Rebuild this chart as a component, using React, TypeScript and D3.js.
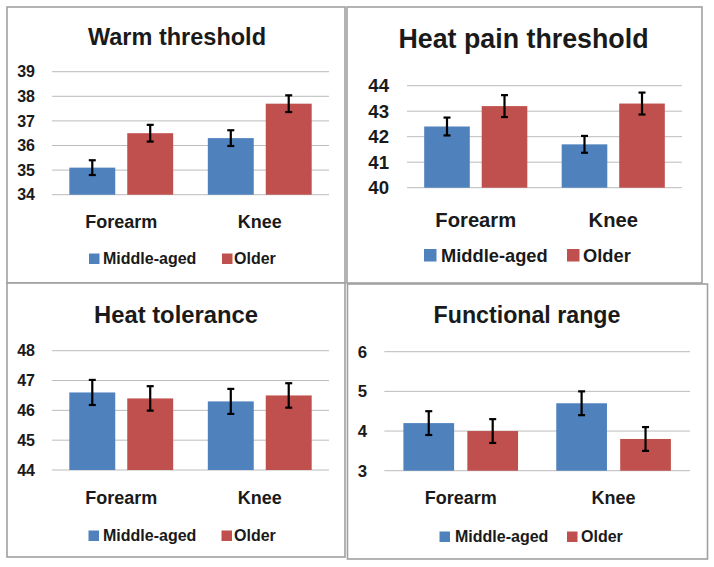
import React from "react";
import * as d3 from "d3";

const categories = ["Forearm", "Knee"];
const seriesNames = ["Middle-aged", "Older"];
const seriesColors = ["#4F81BD", "#C0504D"];

const warmMiddle = [35.1, 36.3];
const warmOlder = [36.5, 37.7];
const warmErrMiddle = [0.3, 0.32];
const warmErrOlder = [0.34, 0.34];
const warmTicks = [34, 35, 36, 37, 38, 39];

const heatPainMiddle = [42.4, 41.7];
const heatPainOlder = [43.2, 43.3];
const heatPainErrMiddle = [0.35, 0.33];
const heatPainErrOlder = [0.43, 0.43];
const heatPainTicks = [40, 41, 42, 43, 44];

const heatTolMiddle = [46.6, 46.3];
const heatTolOlder = [46.4, 46.5];
const heatTolErrMiddle = [0.42, 0.42];
const heatTolErrOlder = [0.41, 0.41];
const heatTolTicks = [44, 45, 46, 47, 48];

const funcMiddle = [4.2, 4.7];
const funcOlder = [4.0, 3.8];
const funcErrMiddle = [0.3, 0.3];
const funcErrOlder = [0.3, 0.3];
const funcTicks = [3, 4, 5, 6];

const FONT = "'Liberation Sans', Arial, sans-serif";
const TEXT = "#1a1a1a";

type Layout = {
  box: [number, number, number, number];
  plot: [number, number, number, number]; // x0, x1, yTop, yBottom
  title: string;
  titleX: number;
  titleY: number;
  titleSize: number;
  tickRight: number;
  tickSize: number;
  catY: number;
  catSize: number;
  legY: number;
  legSize: number;
  sq: number;
  legItems: { sqX: number; textX: number }[];
};

type PanelProps = {
  layout: Layout;
  middle: number[];
  older: number[];
  errMiddle: number[];
  errOlder: number[];
  ticks: number[];
};

function Panel({ layout, middle, older, errMiddle, errOlder, ticks }: PanelProps) {
  const [px0, px1, py0, py1] = layout.plot;
  const y = d3
    .scaleLinear()
    .domain([ticks[0], ticks[ticks.length - 1]])
    .range([py1, py0]);
  const x0 = d3.scaleBand<string>().domain(categories).range([px0, px1]).padding(0);
  const bw = x0.bandwidth();
  const x1 = d3
    .scaleBand<string>()
    .domain(seriesNames)
    .range([bw * 0.125, bw * 0.875])
    .paddingInner(0.207)
    .paddingOuter(0);
  const values = [middle, older];
  const errs = [errMiddle, errOlder];
  const [bx, by, bwid, bh] = layout.box;
  const cap = 3.5;
  return (
    <g>
      <rect x={bx} y={by} width={bwid} height={bh} fill="#fff" stroke="#a0a0a0" strokeWidth={1.6} />
      <text
        x={layout.titleX}
        y={layout.titleY}
        textAnchor="middle"
        fontFamily={FONT}
        fontWeight="bold"
        fontSize={layout.titleSize}
        fill={TEXT}
      >
        {layout.title}
      </text>
      {ticks.map((t) => (
        <g key={t}>
          <line x1={px0} x2={px1} y1={y(t)} y2={y(t)} stroke="#bcbcbc" strokeWidth={1} />
          <text
            x={layout.tickRight}
            y={y(t)}
            dy="0.36em"
            textAnchor="end"
            fontFamily={FONT}
            fontWeight="bold"
            fontSize={layout.tickSize}
            fill={TEXT}
          >
            {t}
          </text>
        </g>
      ))}
      {categories.map((c, ci) => (
        <g key={c}>
          {seriesNames.map((s, si) => {
            const v = values[si][ci];
            const e = errs[si][ci];
            const xb = (x0(c) as number) + (x1(s) as number);
            const w = x1.bandwidth();
            const cx = xb + w / 2;
            return (
              <g key={s}>
                <rect x={xb} y={y(v)} width={w} height={py1 - y(v)} fill={seriesColors[si]} />
                <line x1={cx} x2={cx} y1={y(v + e)} y2={y(v - e)} stroke="#000" strokeWidth={2.2} />
                <line x1={cx - cap} x2={cx + cap} y1={y(v + e)} y2={y(v + e)} stroke="#000" strokeWidth={2.2} />
                <line x1={cx - cap} x2={cx + cap} y1={y(v - e)} y2={y(v - e)} stroke="#000" strokeWidth={2.2} />
              </g>
            );
          })}
          <text
            x={(x0(c) as number) + bw / 2}
            y={layout.catY}
            textAnchor="middle"
            fontFamily={FONT}
            fontWeight="bold"
            fontSize={layout.catSize}
            fill={TEXT}
          >
            {c}
          </text>
        </g>
      ))}
      {seriesNames.map((s, si) => (
        <g key={s}>
          <rect
            x={layout.legItems[si].sqX}
            y={layout.legY - layout.sq}
            width={layout.sq}
            height={layout.sq}
            fill={seriesColors[si]}
          />
          <text
            x={layout.legItems[si].textX}
            y={layout.legY}
            fontFamily={FONT}
            fontWeight="bold"
            fontSize={layout.legSize}
            fill={TEXT}
          >
            {s}
          </text>
        </g>
      ))}
    </g>
  );
}

const layout1: Layout = {
  box: [7, 7, 338, 276],
  plot: [52, 329, 71.7, 194.7],
  title: "Warm threshold",
  titleX: 177,
  titleY: 45,
  titleSize: 23.5,
  tickRight: 35,
  tickSize: 16,
  catY: 228,
  catSize: 18,
  legY: 264,
  legSize: 16,
  sq: 10.5,
  legItems: [
    { sqX: 89, textX: 103 },
    { sqX: 222, textX: 234 },
  ],
};

const layout2: Layout = {
  box: [347, 7, 355, 276],
  plot: [407, 682, 85.7, 187.7],
  title: "Heat pain threshold",
  titleX: 523.5,
  titleY: 48,
  titleSize: 26.8,
  tickRight: 389,
  tickSize: 18.6,
  catY: 226.7,
  catSize: 20.2,
  legY: 261.5,
  legSize: 18.3,
  sq: 12.5,
  legItems: [
    { sqX: 424, textX: 441 },
    { sqX: 567, textX: 583 },
  ],
};

const layout3: Layout = {
  box: [7, 283, 338, 274],
  plot: [52, 329, 350.7, 470],
  title: "Heat tolerance",
  titleX: 176,
  titleY: 322.7,
  titleSize: 23.8,
  tickRight: 35,
  tickSize: 16,
  catY: 504,
  catSize: 18,
  legY: 541,
  legSize: 16,
  sq: 10.5,
  legItems: [
    { sqX: 88.5, textX: 103 },
    { sqX: 221.5, textX: 234 },
  ],
};

const layout4: Layout = {
  box: [347.5, 284, 360, 275],
  plot: [384.3, 690, 351.7, 470.7],
  title: "Functional range",
  titleX: 527,
  titleY: 323,
  titleSize: 23.2,
  tickRight: 367,
  tickSize: 16.8,
  catY: 504,
  catSize: 18,
  legY: 542,
  legSize: 16,
  sq: 10.5,
  legItems: [
    { sqX: 439.5, textX: 455 },
    { sqX: 567, textX: 581 },
  ],
};

export default function App() {
  return (
    <svg
      width={714}
      height={567}
      style={{ position: "absolute", left: 0, top: 0, background: "#fff" }}
    >
      <rect x={0} y={0} width={714} height={567} fill="#fff" />
      <Panel
        layout={layout1}
        middle={warmMiddle}
        older={warmOlder}
        errMiddle={warmErrMiddle}
        errOlder={warmErrOlder}
        ticks={warmTicks}
      />
      <Panel
        layout={layout2}
        middle={heatPainMiddle}
        older={heatPainOlder}
        errMiddle={heatPainErrMiddle}
        errOlder={heatPainErrOlder}
        ticks={heatPainTicks}
      />
      <Panel
        layout={layout3}
        middle={heatTolMiddle}
        older={heatTolOlder}
        errMiddle={heatTolErrMiddle}
        errOlder={heatTolErrOlder}
        ticks={heatTolTicks}
      />
      <Panel
        layout={layout4}
        middle={funcMiddle}
        older={funcOlder}
        errMiddle={funcErrMiddle}
        errOlder={funcErrOlder}
        ticks={funcTicks}
      />
    </svg>
  );
}
